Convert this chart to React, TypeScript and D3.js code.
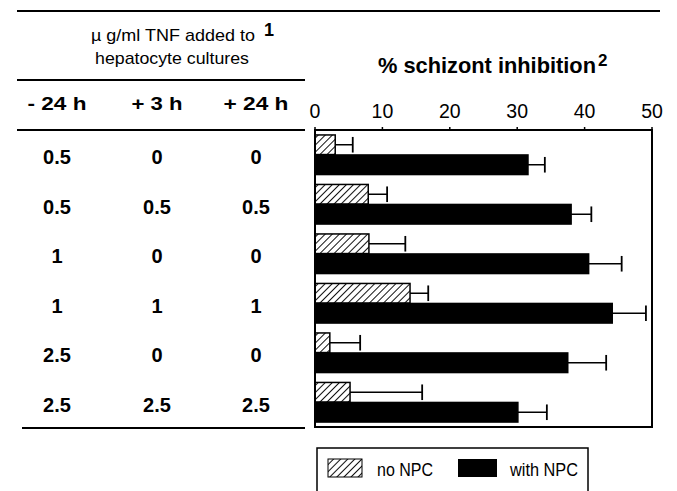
import React from "react";
import * as d3 from "d3";

// table rows: TNF dose (µg/ml) at -24h, +3h, +24h
const colHeaders = ["- 24 h", "+ 3 h", "+ 24 h"];
const doseMinus24 = ["0.5", "0.5", "1", "1", "2.5", "2.5"];
const dosePlus3 = ["0", "0.5", "0", "1", "0", "2.5"];
const dosePlus24 = ["0", "0.5", "0", "1", "0", "2.5"];

// % schizont inhibition
const noNPC = [3.0, 7.9, 8.0, 14.1, 2.2, 5.2];
const noNPCErr = [2.6, 2.8, 5.4, 2.7, 4.5, 10.7];
const withNPC = [31.6, 38.0, 40.6, 44.1, 37.5, 30.1];
const withNPCErr = [2.5, 3.0, 4.9, 5.0, 5.7, 4.3];

const xTicks = [0, 10, 20, 30, 40, 50];

const W = 677;
const H = 491;

export default function App() {
  const frame = { left: 315, right: 652, top: 130, bottom: 427 };
  const x = d3.scaleLinear().domain([0, 50]).range([frame.left, frame.right]);
  const rows = d3.range(6);
  const y = d3
    .scaleBand<number>()
    .domain(rows)
    .range([frame.top, frame.bottom])
    .paddingInner(0.2)
    .paddingOuter(0.1);
  const sub = d3
    .scaleBand<string>()
    .domain(["no", "with"])
    .range([0, y.bandwidth()])
    .paddingInner(0.02);

  const colX = [57, 157, 256];
  const colW = [59, 51, 65];
  const cols = [doseMinus24, dosePlus3, dosePlus24];
  const font = "Liberation Sans, Arial, sans-serif";

  const bars = [
    { key: "no", vals: noNPC, errs: noNPCErr, fill: "url(#hatch)" },
    { key: "with", vals: withNPC, errs: withNPCErr, fill: "#000" },
  ];

  return (
    <svg
      width={W}
      height={H}
      style={{ position: "absolute", left: 0, top: 0, background: "#fff" }}
      fontFamily={font}
    >
      <defs>
        <pattern id="hatch" width="5" height="5" patternUnits="userSpaceOnUse" patternTransform="rotate(45)">
          <rect width="5" height="5" fill="#fff" />
          <line x1="0" y1="0" x2="0" y2="5" stroke="#111" strokeWidth="2" />
        </pattern>
      </defs>

      {/* table rules */}
      <line x1={17} x2={660} y1={11} y2={11} stroke="#000" strokeWidth={2} />
      <line x1={17} x2={305} y1={80} y2={80} stroke="#000" strokeWidth={2} />
      <line x1={17} x2={305} y1={130} y2={130} stroke="#000" strokeWidth={2} />
      <line x1={22} x2={305} y1={428} y2={428} stroke="#000" strokeWidth={2} />

      <text x={91} y={41} fontSize={17} textLength={164} lengthAdjust="spacingAndGlyphs">
        µ g/ml TNF  added to
      </text>
      <text x={264} y={36} fontSize={18} fontWeight="bold">1</text>
      <text x={95} y={64} fontSize={17} textLength={154} lengthAdjust="spacingAndGlyphs">
        hepatocyte cultures
      </text>

      {colHeaders.map((h, i) => (
        <text
          key={h}
          x={colX[i] - colW[i] / 2}
          y={110}
          fontSize={19}
          fontWeight="bold"
          textLength={colW[i]}
          lengthAdjust="spacingAndGlyphs"
        >
          {h}
        </text>
      ))}

      {cols.map((col, ci) =>
        col.map((v, ri) => (
          <text
            key={ci + "-" + ri}
            x={colX[ci]}
            y={(y(ri) as number) + y.bandwidth() / 2 + 9.5}
            fontSize={20}
            fontWeight="bold"
            textAnchor="middle"
          >
            {v}
          </text>
        ))
      )}

      {/* title */}
      <text x={378} y={73} fontSize={22} fontWeight="bold" textLength={218} lengthAdjust="spacingAndGlyphs">
        % schizont inhibition
      </text>
      <text x={598} y={66} fontSize={17} fontWeight="bold">2</text>

      {/* x axis labels */}
      {xTicks.map((t) => (
        <g key={t}>
          <text x={x(t)} y={118} fontSize={19.5} textAnchor="middle">
            {t}
          </text>
          <line x1={x(t)} x2={x(t)} y1={frame.top} y2={frame.top - 3} stroke="#000" strokeWidth={1.5} />
        </g>
      ))}

      {/* bars */}
      {bars.map((b) =>
        rows.map((r) => {
          const y0 = (y(r) as number) + (sub(b.key) as number);
          const h = sub.bandwidth();
          const end = x(b.vals[r]);
          const errEnd = x(b.vals[r] + b.errs[r]);
          const cy = y0 + h / 2;
          return (
            <g key={b.key + r}>
              <rect
                x={x(0)}
                y={y0}
                width={end - x(0)}
                height={h}
                fill={b.fill}
                stroke="#000"
                strokeWidth={1.5}
              />
              <line x1={end} x2={errEnd} y1={cy} y2={cy} stroke="#000" strokeWidth={1.5} />
              <line x1={errEnd} x2={errEnd} y1={y0 + 2} y2={y0 + h - 2} stroke="#000" strokeWidth={1.8} />
            </g>
          );
        })
      )}

      {/* frame */}
      <rect
        x={frame.left}
        y={frame.top}
        width={frame.right - frame.left}
        height={frame.bottom - frame.top}
        fill="none"
        stroke="#000"
        strokeWidth={2}
      />

      {/* legend */}
      <rect x={317} y={448} width={271} height={60} fill="none" stroke="#000" strokeWidth={1.5} />
      <rect x={328} y={459} width={34} height={18} fill="url(#hatch)" stroke="#000" strokeWidth={1} />
      <text x={377} y={476} fontSize={18} textLength={56} lengthAdjust="spacingAndGlyphs">no NPC</text>
      <rect x={458} y={459} width={39} height={18} fill="#000" />
      <text x={510} y={476} fontSize={18} textLength={68} lengthAdjust="spacingAndGlyphs">with NPC</text>
    </svg>
  );
}
